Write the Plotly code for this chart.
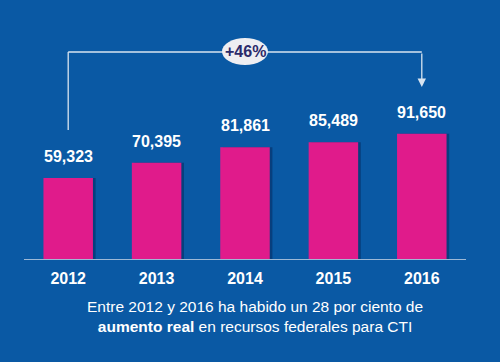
import plotly.graph_objects as go

years = ["2012", "2013", "2014", "2015", "2016"]
values = [59323, 70395, 81861, 85489, 91650]
value_labels = ["59,323", "70,395", "81,861", "85,489", "91,650"]
growth_label = "+46%"
caption = "Entre 2012 y 2016 ha habido un 28 por ciento de<br><b>aumento real</b> en recursos federales para CTI"

BG = "#0A59A4"
BAR = "#E01B8B"
FONT = "Liberation Sans, Arial, sans-serif"

W, H = 500, 362
ML, MR, MT, MB = 24, 34, 20, 103
YMAX = 175000

fig = go.Figure()
# soft shadow
fig.add_trace(go.Bar(x=years, y=values, width=0.56, offset=-0.25,
                     marker=dict(color="rgba(5,30,80,0.45)", line=dict(width=0)),
                     hoverinfo="skip", showlegend=False))
fig.add_trace(go.Bar(x=years, y=values, width=0.56, offset=-0.28,
                     marker=dict(color=BAR, line=dict(width=0)), showlegend=False))

for i, (v, lab) in enumerate(zip(values, value_labels)):
    fig.add_annotation(x=i, y=v, text=f"<b>{lab}</b>", showarrow=False,
                       yanchor="bottom", yshift=11,
                       font=dict(family=FONT, size=16, color="white"))

def ypx(py):
    return (H - MB - py) / (H - MB - MT) * YMAX

line_col = "#D8E4F0"
# bracket
fig.add_shape(type="line", xref="x", yref="y", x0=0, x1=0, y0=ypx(130), y1=ypx(52),
              line=dict(color=line_col, width=1.3))
fig.add_shape(type="line", xref="x", yref="y", x0=0, x1=4, y0=ypx(52), y1=ypx(52),
              line=dict(color=line_col, width=1.3))
fig.add_annotation(x=4, y=ypx(87), ax=4, ay=ypx(52), xref="x", yref="y",
                   axref="x", ayref="y", showarrow=True, arrowhead=2, arrowsize=1.3,
                   arrowwidth=1.3, arrowcolor=line_col, text="")
fig.add_shape(type="circle", xref="x", yref="y", x0=1.74, x1=2.26,
              y0=ypx(65), y1=ypx(38), fillcolor="#EEEEF2", line=dict(width=0), layer="above")
fig.add_annotation(x=2, y=ypx(51.5), text=f"<b>{growth_label}</b>", showarrow=False,
                   font=dict(family=FONT, size=16, color="#2B2A6A"))

fig.add_annotation(xref="paper", yref="paper", x=(255 - ML) / (W - ML - MR),
                   y=-(316 - (H - MB)) / (H - MB - MT), yanchor="middle", xanchor="center",
                   text=caption, showarrow=False,
                   align="center", font=dict(family=FONT, size=15.5, color="white"))

fig.update_layout(
    width=W, height=H, margin=dict(l=ML, r=MR, t=MT, b=MB),
    paper_bgcolor=BG, plot_bgcolor=BG, barmode="overlay",
    xaxis=dict(type="category", showgrid=False, zeroline=False, showline=True,
               linecolor="#9DB8D6", linewidth=1, ticks="", ticklabelstandoff=5,
               tickfont=dict(family=FONT, size=16, color="white"),
               tickvals=years, ticktext=[f"<b>{y}</b>" for y in years]),
    yaxis=dict(range=[0, YMAX], visible=False),
)

fig.write_html("out.html", config={"displayModeBar": False},
               post_script="document.body.style.margin='0';")
